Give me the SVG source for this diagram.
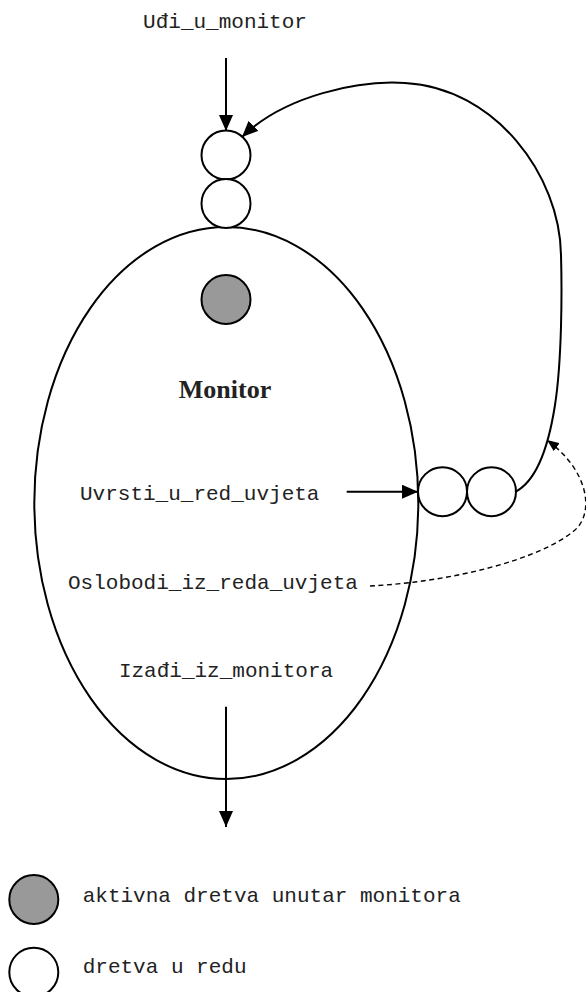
<svg xmlns="http://www.w3.org/2000/svg" width="586" height="992" viewBox="0 0 586 992">
<defs>
<style>
.mono{font-family:"Liberation Mono","Courier New",monospace;font-size:21px;fill:#222}
.bold{font-family:"Liberation Serif","Times New Roman",serif;font-size:26px;font-weight:bold;fill:#222}
.node{stroke:#000;stroke-width:2;fill:#fff}
.active{stroke:#000;stroke-width:2;fill:#999}
.edge{stroke:#000;stroke-width:2;fill:none}
.dash{stroke:#000;stroke-width:1.4;fill:none;stroke-dasharray:5 3.5}
</style>
<marker id="ah" markerWidth="16" markerHeight="14" refX="16" refY="7" orient="auto" markerUnits="userSpaceOnUse">
<path d="M0,0 L16,7 L0,14 Z" fill="#000"/>
</marker>
<marker id="ahs" markerWidth="12" markerHeight="10" refX="12" refY="5" orient="auto" markerUnits="userSpaceOnUse">
<path d="M0,0 L12,5 L0,10 Z" fill="#000"/>
</marker>
</defs>
<rect width="586" height="992" fill="#fff"/>
<g id="monitor">
<ellipse cx="226.3" cy="503" rx="192" ry="276" class="node"/>
<text x="225" y="398" text-anchor="middle" class="bold">Monitor</text>
</g>
<g id="entry-queue">
<circle cx="226" cy="155" r="24.5" class="node"/>
<circle cx="226" cy="203.5" r="24.5" class="node"/>
</g>
<g id="active-thread">
<circle cx="226" cy="299.5" r="24.5" class="active"/>
</g>
<g id="condition-queue">
<circle cx="442.5" cy="491.7" r="24.5" class="node"/>
<circle cx="491.5" cy="491.7" r="24.5" class="node"/>
</g>
<g id="labels">
<text x="225" y="28.3" text-anchor="middle" class="mono">Uđi_u_monitor</text>
<text x="80" y="499.5" class="mono">Uvrsti_u_red_uvjeta</text>
<text x="68" y="589" class="mono">Oslobodi_iz_reda_uvjeta</text>
<text x="226" y="676.7" text-anchor="middle" class="mono">Izađi_iz_monitora</text>
</g>
<g id="connectors">
<line x1="226" y1="58" x2="226" y2="131" class="edge" marker-end="url(#ah)"/>
<line x1="346.7" y1="491.7" x2="418" y2="491.7" class="edge" marker-end="url(#ah)"/>
<line x1="226" y1="706.7" x2="226" y2="827" class="edge" marker-end="url(#ah)"/>
<path d="M515,492 C535,482 548,450 555,405 C562,360 562,290 561,255 C560,175 495,88 405,83 C360,80 285,95 242,137" class="edge" marker-end="url(#ah)"/>
<path d="M370,586 C450,582 540,560 575,530 C595,512 588,470 547,440" class="dash" marker-end="url(#ahs)"/>
</g>
<g id="legend">
<circle cx="33.8" cy="899.5" r="24.5" class="active"/>
<text x="82.7" y="901.7" class="mono">aktivna dretva unutar monitora</text>
<circle cx="33.8" cy="972.2" r="24.5" class="node"/>
<text x="82.7" y="972.7" class="mono">dretva u redu</text>
</g>
</svg>
